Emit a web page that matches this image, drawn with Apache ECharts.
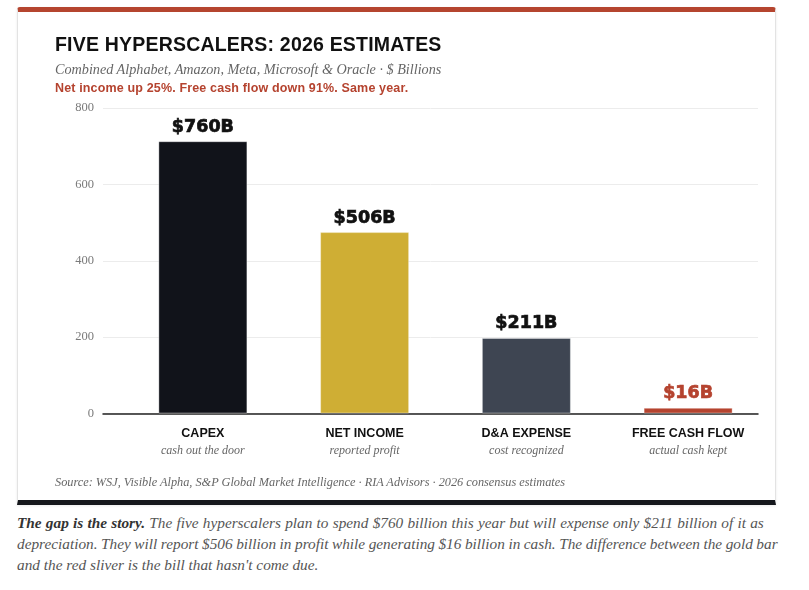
<!DOCTYPE html>
<html>
<head>
<meta charset="utf-8">
<script src="https://cdn.jsdelivr.net/npm/echarts@6/dist/echarts.min.js"></script>
<style>
  html, body { margin: 0; padding: 0; background: #fff; width: 809px; height: 590px; overflow: hidden; }
  .card { position: absolute; left: 17px; top: 7px; width: 757px; height: 488px; border: 1px solid #e3e3e3;
          border-top: 5px solid #b5452f; border-bottom: 5px solid #15171c; border-radius: 3px 3px 0 0;
          box-shadow: 0 1px 3px rgba(0,0,0,.08); background: #fff; }
  #chart { position: absolute; left: 0; top: 0; width: 809px; height: 510px; }
  .t { position: absolute; left: 55px; white-space: nowrap; line-height: 1; }
  .title { top: 33px; font: bold 19.5px "Liberation Sans", Arial, sans-serif; color: #111; letter-spacing: .2px; }
  .sub { top: 61px; font: italic 14.2px "Liberation Serif", serif; color: #666; }
  .note { top: 81px; font: bold 12.5px "Liberation Sans", Arial, sans-serif; color: #b5432f; letter-spacing: .15px; }
  .src { top: 475px; font: italic 12.3px "Liberation Serif", serif; color: #666; }
  .para { position: absolute; left: 17px; top: 512px; font: italic 15.3px/21px "Liberation Serif", serif; color: #555; white-space: nowrap; }
  .para b { color: #333; }
  .l1 { word-spacing: .4px; }
  .l2 { word-spacing: -.3px; }
</style>
</head>
<body>
<div class="card"></div>
<div id="chart"></div>
<div class="t title">FIVE HYPERSCALERS: 2026 ESTIMATES</div>
<div class="t sub">Combined Alphabet, Amazon, Meta, Microsoft &amp; Oracle · $ Billions</div>
<div class="t note">Net income up 25%. Free cash flow down 91%. Same year.</div>
<div class="t src">Source: WSJ, Visible Alpha, S&amp;P Global Market Intelligence · RIA Advisors · 2026 consensus estimates</div>
<div class="para"><span class="l1"><b>The gap is the story.</b> The five hyperscalers plan to spend $760 billion this year but will expense only $211 billion of it as</span><br><span class="l2">depreciation. They will report $506 billion in profit while generating $16 billion in cash. The difference between the gold bar</span><br>and the red sliver is the bill that hasn't come due.</div>
<script>
// 类别与数值（柱高按图中实际绘制高度读取）
const categories = ['CAPEX', 'NET INCOME', 'D&A EXPENSE', 'FREE CASH FLOW'];
const subLabels = ['cash out the door', 'reported profit', 'cost recognized', 'actual cash kept'];
const barHeights = [713, 475, 198, 15];
const valueLabels = ['$760B', '$506B', '$211B', '$16B'];
const barColors = ['#11131a', '#cfae34', '#3e4552', '#b5432f'];
const labelColors = ['#111', '#111', '#111', '#b5432f'];
const yTicks = [0, 200, 400, 600, 800];

const chart = echarts.init(document.getElementById('chart'));
chart.setOption({
  animation: false,
  grid: [
    { left: 103, right: 51, top: 108, bottom: 96.5 },
    { left: 122, right: 40, top: 108, bottom: 96.5 },
  ],
  xAxis: [
    { gridIndex: 0, type: 'category', data: categories, axisTick: { show: false }, axisLabel: { show: false },
      axisLine: { lineStyle: { color: '#222', width: 1.5 } } },
    { gridIndex: 1, type: 'category', data: categories, axisTick: { show: false }, axisLine: { show: false },
      axisLabel: {
        margin: 12, interval: 0,
        formatter: (v, i) => `{a|${v}}\n{b|${subLabels[i]}}`,
        rich: {
          a: { fontFamily: 'Liberation Sans', fontWeight: 'bold', fontSize: 12.5, color: '#111', lineHeight: 17 },
          b: { fontFamily: 'Liberation Serif', fontStyle: 'italic', fontSize: 12, color: '#666', lineHeight: 16 },
        },
      } },
  ],
  yAxis: [
    { gridIndex: 0, type: 'value', min: yTicks[0], max: yTicks[yTicks.length - 1], interval: 200,
      axisLine: { show: false }, axisTick: { show: false },
      axisLabel: { color: '#7a7a7a', fontFamily: 'Liberation Serif', fontSize: 12.5, margin: 9 },
      splitLine: { lineStyle: { color: '#ececec' } } },
    { gridIndex: 1, type: 'value', min: 0, max: 800, show: false, splitLine: { show: false } },
  ],
  series: [{
    type: 'bar', xAxisIndex: 1, yAxisIndex: 1, barWidth: 89,
    data: barHeights.map((v, i) => ({
      value: v,
      itemStyle: { color: barColors[i], borderColor: 'rgba(255,255,255,0.35)', borderWidth: 1 },
      label: { color: labelColors[i], textBorderColor: labelColors[i], textBorderWidth: 0.7 },
    })),
    label: {
      show: true, position: 'top', distance: 5,
      formatter: p => valueLabels[p.dataIndex],
      fontFamily: 'DejaVu Sans', fontWeight: 'bold', fontSize: 17.5,
    },
  }],
});
</script>
</body>
</html>
